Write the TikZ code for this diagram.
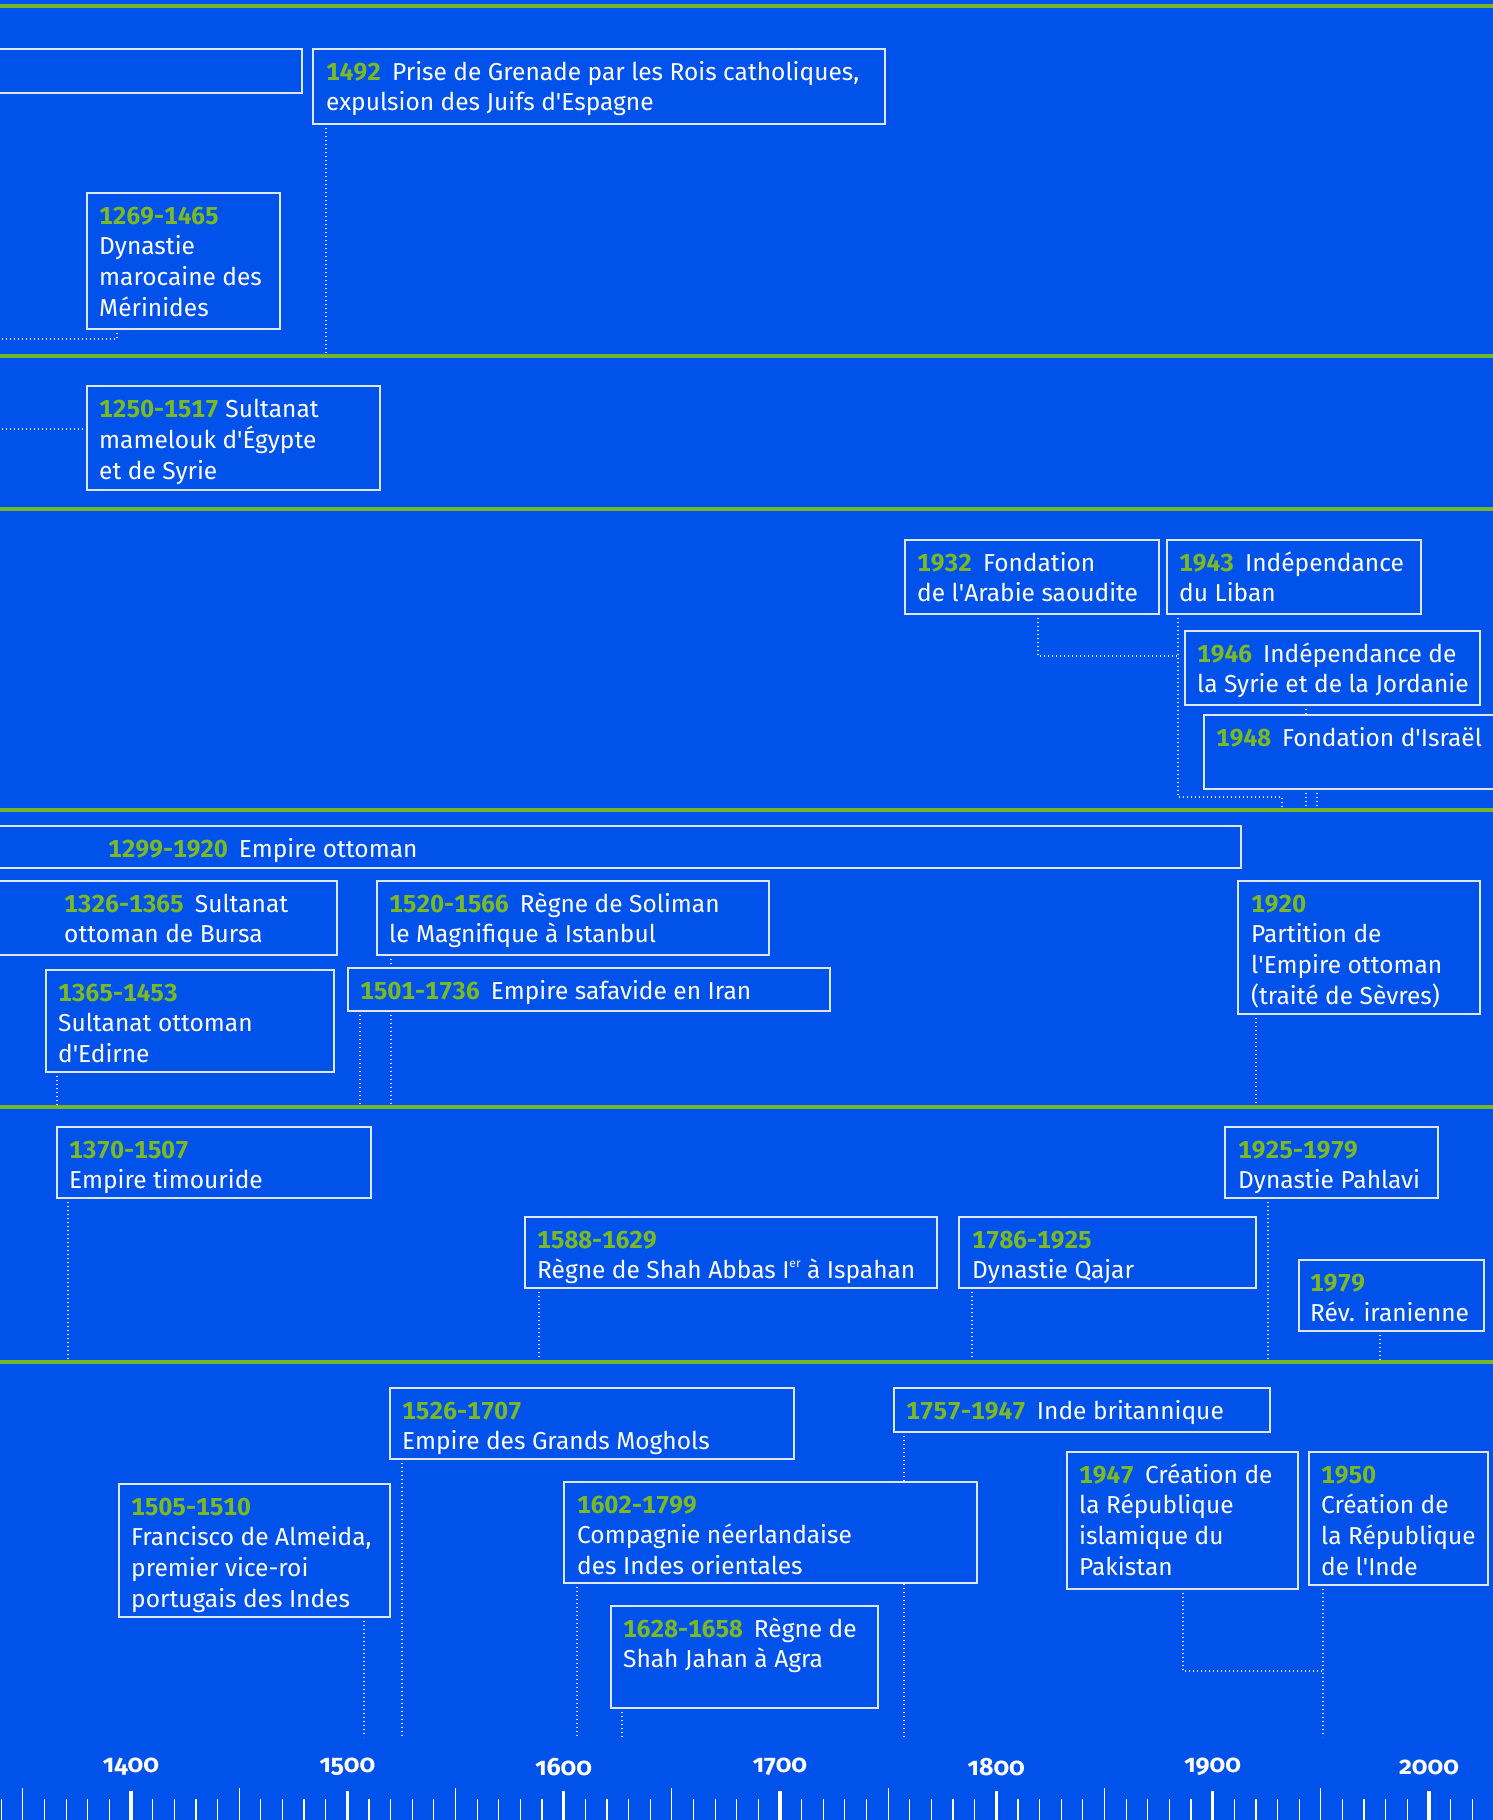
\documentclass[tikz,border=0pt]{standalone}
\usepackage{fontspec}
\setmainfont{Fira Sans}
\newfontfamily\plainfont{Fira Sans}
\newfontfamily\datefont[Numbers={Lining,Monospaced}]{Fira Sans}
\newfontfamily\axisfont[Numbers=OldStyle]{Fira Sans}
\usetikzlibrary{calc}
\definecolor{bgblue}{RGB}{0,82,234}
\definecolor{lgreen}{RGB}{118,182,42}
\definecolor{dgreen}{RGB}{124,184,36}
\definecolor{edge}{RGB}{222,232,252}
\pgfdeclarelayer{back}\pgfdeclarelayer{conn}
\pgfsetlayers{back,conn,main}
\newcommand\dt[1]{{\datefont\bfseries\color{dgreen}#1}}
\newcommand\gap{\hskip 0.45em}
\newcommand\ap{{\plainfont'}}
\newcommand\tbox[7]{%
  \node[tlbox, minimum width={#4-#2}, minimum height={#5-#3}, anchor=north west] (#1) at (#2,#3) {};
  \node[tltext, anchor=base west] (#1-t) at (#6,#3+31) {\begin{tabular}[t]{@{}l@{}}#7\end{tabular}};
}
\tikzset{
  tlbox/.style={draw=edge, line width=2pt, fill=bgblue, inner sep=0pt, outer sep=0pt},
  tltext/.style={text=white, inner sep=0pt, font=\fontsize{24.5}{30.7}\selectfont},
  conn/.style={draw=edge, line width=1.3pt, dash pattern=on 1.3pt off 2.7pt},
  gline/.style={draw=lgreen, line width=3.5pt},
  axislab/.style={text=white, inner sep=0pt, font=\axisfont\bfseries\fontsize{25}{28}\selectfont}
}
\begin{document}
\begin{tikzpicture}[x=1pt,y=-1pt]
\useasboundingbox (0,0) rectangle (1493,1820);
\begin{pgfonlayer}{back}
\fill[bgblue] (0,0) rectangle (1493,1820);
\end{pgfonlayer}
% band separators
\foreach \gy in {6,356,509,810,1107,1362}{\draw[gline] (0,\gy) -- (1493,\gy);}

% ---- Band 1
\tbox{bA}{-10}{49}{302}{93}{0}{}
\tbox{b1492}{313}{49}{885}{124}{326}{\dt{1492}\gap Prise de Grenade par les Rois catholiques,\\ expulsion des Juifs d\ap Espagne}
\tbox{b1269}{87}{193}{280}{329}{99}{\dt{1269-1465}\\ Dynastie\\ marocaine des\\ Mérinides}
% ---- Band 2
\tbox{b1250}{87}{386}{380}{490}{99}{\dt{1250-1517} Sultanat\\ mamelouk d\ap Égypte\\ et de Syrie}
% ---- Band 3
\tbox{b1932}{905}{540}{1159}{614}{917}{\dt{1932}\gap Fondation\\ de l\ap Arabie saoudite}
\tbox{b1943}{1167}{540}{1421}{614}{1179}{\dt{1943}\gap Indépendance\\ du Liban}
\tbox{b1946}{1185}{631}{1480}{705}{1197}{\dt{1946}\gap Indépendance de\\ la Syrie et de la Jordanie}
\tbox{b1948}{1204}{715}{1510}{789}{1216}{\dt{1948}\gap Fondation d\ap Israël}
% ---- Band 4
\tbox{b1299}{-10}{826}{1241}{868}{108}{\dt{1299-1920}\gap Empire ottoman}
\tbox{b1326}{-10}{881}{337}{955}{64}{\dt{1326-1365}\gap Sultanat\\ ottoman de Bursa}
\tbox{b1520}{377}{881}{769}{955}{389}{\dt{1520-1566}\gap Règne de Soliman\\ le Magnifique à Istanbul}
\tbox{b1365}{46}{970}{334}{1072}{58}{\dt{1365-1453}\\ Sultanat ottoman\\ d\ap Edirne}
\tbox{b1501}{348}{968}{830}{1011}{360}{\dt{1501-1736}\gap Empire safavide en Iran}
\tbox{b1920}{1238}{881}{1480}{1014}{1251}{\dt{1920}\\ Partition de\\ l\ap Empire ottoman\\ (traité de Sèvres)}
% ---- Band 5
\tbox{b1370}{57}{1127}{371}{1198}{69}{\dt{1370-1507}\\ Empire timouride}
\tbox{b1588}{525}{1217}{937}{1288}{537}{\dt{1588-1629}\\ Règne de Shah Abbas I\raisebox{0.45em}{\fontsize{12}{12}\selectfont er} à Ispahan}
\tbox{b1786}{959}{1217}{1256}{1288}{972}{\dt{1786-1925}\\ Dynastie Qajar}
\tbox{b1925}{1225}{1127}{1438}{1198}{1238}{\dt{1925-1979}\\ Dynastie Pahlavi}
\tbox{b1979}{1299}{1260}{1484}{1331}{1310}{\dt{1979}\\ Rév. iranienne}
% ---- Band 6
\tbox{b1526}{390}{1388}{794}{1459}{402}{\dt{1526-1707}\\ Empire des Grands Moghols}
\tbox{b1505}{119}{1484}{390}{1617}{131}{\dt{1505-1510}\\ Francisco de Almeida,\\ premier vice-roi\\ portugais des Indes}
\tbox{b1602}{564}{1482}{977}{1583}{577}{\dt{1602-1799}\\ Compagnie néerlandaise\\ des Indes orientales}
\tbox{b1628}{611}{1606}{878}{1708}{623}{\dt{1628-1658}\gap Règne de\\ Shah Jahan à Agra}
\tbox{b1757}{894}{1388}{1270}{1432}{906}{\dt{1757-1947}\gap Inde britannique}
\tbox{b1947}{1067}{1452}{1298}{1589}{1079}{\dt{1947}\gap Création de\\ la République\\ islamique du\\ Pakistan}
\tbox{b1950}{1309}{1452}{1488}{1585}{1321}{\dt{1950}\\ Création de\\ la République\\ de l\ap Inde}

% ---- connectors
\begin{pgfonlayer}{conn}
\coordinate (c1492) at (326,356);
\draw[conn] (b1492.south -| c1492) -- (c1492);
\coordinate (c1269) at (117,339); \coordinate (e1269) at (-2,339);
\draw[conn] (b1269.south -| c1269) -- (c1269) -- (e1269);
\coordinate (e1250) at (-2,429);
\draw[conn] (e1250) -- (e1250 -| b1250.west);
\coordinate (c1932) at (1038,656); \coordinate (c1943) at (1178,656);
\draw[conn] (b1932.south -| c1932) -- (c1932) -- (c1943);
\coordinate (d1943) at (1178,797); \coordinate (f1943) at (1282,797); \coordinate (g1943) at (1282,810);
\draw[conn] (b1943.south -| c1943) -- (d1943) -- (f1943) -- (g1943);
\coordinate (g1946) at (1306,810);
\draw[conn] (b1946.south -| g1946) -- (g1946);
\coordinate (g1948) at (1317,810);
\draw[conn] (b1948.south -| g1948) -- (g1948);
\coordinate (g1520) at (391,1107);
\draw[conn] (b1520.south -| g1520) -- (g1520);
\coordinate (g1501) at (360,1107);
\draw[conn] (b1501.south -| g1501) -- (g1501);
\coordinate (g1365) at (57,1107);
\draw[conn] (b1365.south -| g1365) -- (g1365);
\coordinate (g1920) at (1256,1107);
\draw[conn] (b1920.south -| g1920) -- (g1920);
\coordinate (g1370) at (68,1362);
\draw[conn] (b1370.south -| g1370) -- (g1370);
\coordinate (g1588) at (539,1362);
\draw[conn] (b1588.south -| g1588) -- (g1588);
\coordinate (g1786) at (972,1362);
\draw[conn] (b1786.south -| g1786) -- (g1786);
\coordinate (g1925) at (1268,1362);
\draw[conn] (b1925.south -| g1925) -- (g1925);
\coordinate (g1979) at (1380,1362);
\draw[conn] (b1979.south -| g1979) -- (g1979);
\coordinate (g1526) at (402,1737);
\draw[conn] (b1526.south -| g1526) -- (g1526);
\coordinate (g1505) at (364,1737);
\draw[conn] (b1505.south -| g1505) -- (g1505);
\coordinate (g1602) at (577,1737);
\draw[conn] (b1602.south -| g1602) -- (g1602);
\coordinate (g1628) at (622,1737);
\draw[conn] (b1628.south -| g1628) -- (g1628);
\coordinate (g1757) at (904,1737);
\draw[conn] (b1757.south -| g1757) -- (g1757);
\coordinate (g1950) at (1323,1737);
\draw[conn] (b1950.south -| g1950) -- (g1950);
\coordinate (c1947) at (1183,1671); \coordinate (j1947) at (1323,1671);
\draw[conn] (b1947.south -| c1947) -- (c1947) -- (j1947);
\end{pgfonlayer}

% ---- axis
\foreach \yr in {1340,1350,...,2020}{
  \pgfmathsetmacro\tx{131+(\yr-1400)*2.1633}
  \pgfmathtruncatemacro\mh{mod(\yr,100)}
  \pgfmathtruncatemacro\mf{mod(\yr,50)}
  \ifnum\mh=0
    \draw[white, line width=3.2pt] (\tx,1791) -- (\tx,1822);
  \else\ifnum\mf=0
    \draw[white, line width=1.2pt] (\tx,1788) -- (\tx,1822);
  \else
    \draw[white, line width=1.2pt] (\tx,1799) -- (\tx,1822);
  \fi\fi
}
\foreach \yr in {1400,1500,...,2000}{
  \pgfmathsetmacro\lx{131+(\yr-1400)*2.1633}
  \node[axislab] (lab\yr) at (\lx,1767) {\yr};
}
\end{tikzpicture}
\end{document}
